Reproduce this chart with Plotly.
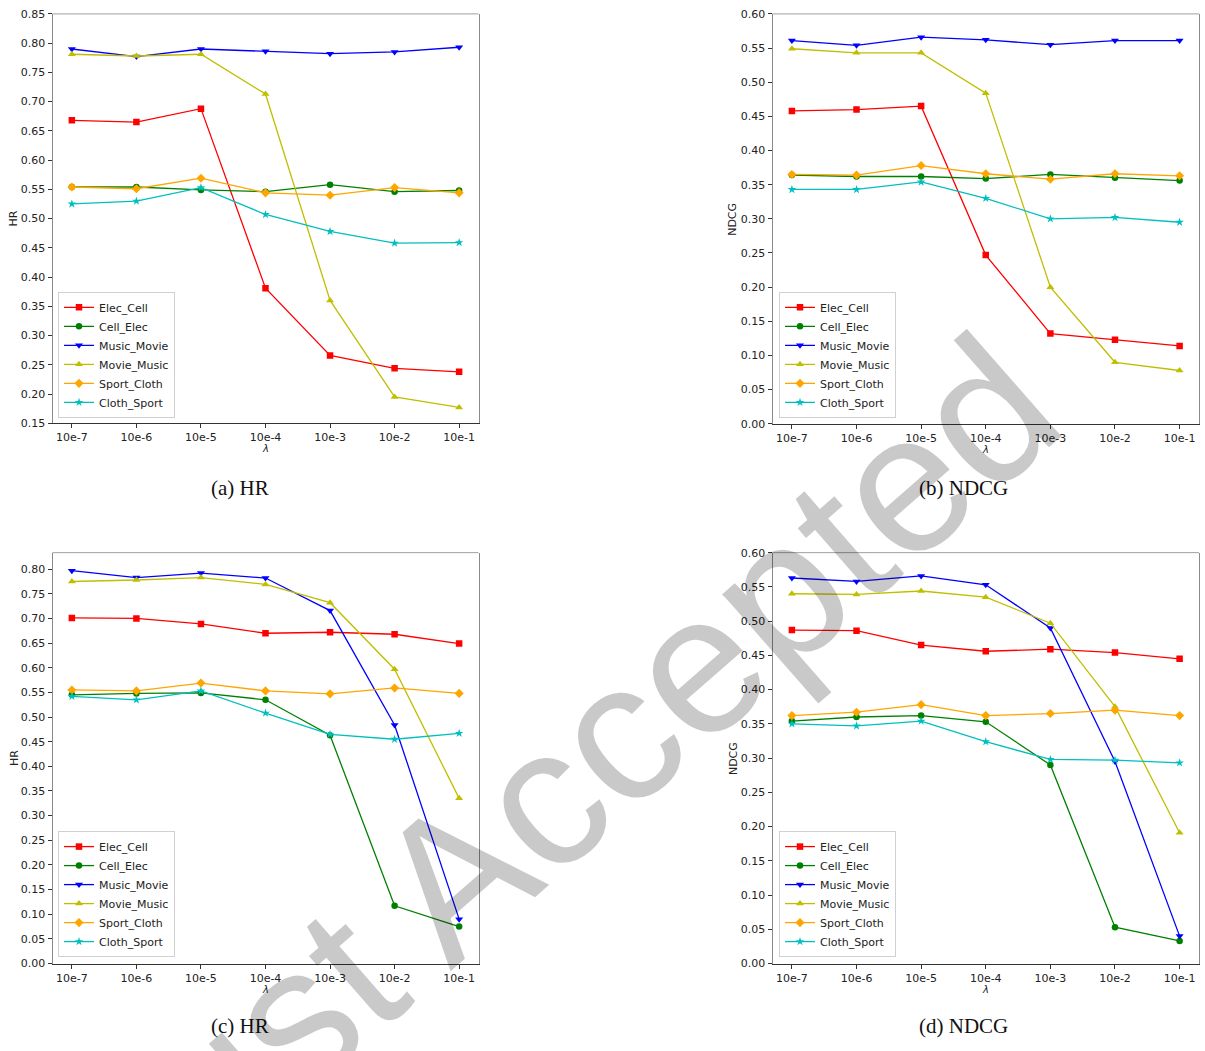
import plotly.graph_objects as go

W, H = 1205, 1051

lambdas = ["10e-7", "10e-6", "10e-5", "10e-4", "10e-3", "10e-2", "10e-1"]
series_names = ["Elec_Cell", "Cell_Elec", "Music_Movie", "Movie_Music", "Sport_Cloth", "Cloth_Sport"]

# (a) HR
hr_a_elec_cell = [0.668, 0.665, 0.688, 0.381, 0.266, 0.244, 0.238]
hr_a_cell_elec = [0.554, 0.554, 0.549, 0.546, 0.558, 0.546, 0.548]
hr_a_music_movie = [0.790, 0.777, 0.790, 0.786, 0.782, 0.785, 0.793]
hr_a_movie_music = [0.781, 0.778, 0.781, 0.713, 0.360, 0.195, 0.177]
hr_a_sport_cloth = [0.554, 0.551, 0.569, 0.544, 0.540, 0.553, 0.544]
hr_a_cloth_sport = [0.525, 0.530, 0.553, 0.507, 0.478, 0.458, 0.459]

# (b) NDCG
ndcg_b_elec_cell = [0.458, 0.460, 0.465, 0.247, 0.132, 0.123, 0.114]
ndcg_b_cell_elec = [0.364, 0.362, 0.362, 0.359, 0.365, 0.360, 0.356]
ndcg_b_music_movie = [0.561, 0.554, 0.566, 0.562, 0.555, 0.561, 0.561]
ndcg_b_movie_music = [0.549, 0.543, 0.543, 0.484, 0.200, 0.090, 0.078]
ndcg_b_sport_cloth = [0.365, 0.364, 0.378, 0.366, 0.358, 0.366, 0.363]
ndcg_b_cloth_sport = [0.343, 0.343, 0.354, 0.330, 0.300, 0.302, 0.295]

# (c) HR
hr_c_elec_cell = [0.701, 0.700, 0.689, 0.670, 0.672, 0.668, 0.649]
hr_c_cell_elec = [0.545, 0.548, 0.549, 0.535, 0.463, 0.117, 0.075]
hr_c_music_movie = [0.797, 0.783, 0.792, 0.782, 0.716, 0.484, 0.090]
hr_c_movie_music = [0.775, 0.778, 0.783, 0.769, 0.732, 0.597, 0.335]
hr_c_sport_cloth = [0.555, 0.553, 0.569, 0.553, 0.547, 0.559, 0.548]
hr_c_cloth_sport = [0.542, 0.535, 0.553, 0.508, 0.465, 0.455, 0.467]

# (d) NDCG
ndcg_d_elec_cell = [0.487, 0.486, 0.465, 0.456, 0.459, 0.454, 0.445]
ndcg_d_cell_elec = [0.354, 0.360, 0.362, 0.353, 0.290, 0.053, 0.033]
ndcg_d_music_movie = [0.563, 0.558, 0.566, 0.553, 0.490, 0.295, 0.040]
ndcg_d_movie_music = [0.540, 0.539, 0.544, 0.535, 0.497, 0.375, 0.191]
ndcg_d_sport_cloth = [0.362, 0.367, 0.378, 0.362, 0.365, 0.370, 0.362]
ndcg_d_cloth_sport = [0.350, 0.347, 0.354, 0.324, 0.298, 0.297, 0.293]

captions = ["(a) HR", "(b) NDCG", "(c) HR", "(d) NDCG"]
ylabels = ["HR", "NDCG", "HR", "NDCG"]
xlabel = "<i>λ</i>"
watermark = "Just Accepted"

colors = ["#ff0000", "#008000", "#0000ff", "#bfbf00", "#ffa500", "#00bfbf"]
symbols = ["square", "circle", "triangle-down", "triangle-up", "diamond", "star"]
msizes = [6.5, 6.5, 7, 7, 7, 6.5]

panels = [
    [hr_a_elec_cell, hr_a_cell_elec, hr_a_music_movie, hr_a_movie_music, hr_a_sport_cloth, hr_a_cloth_sport],
    [ndcg_b_elec_cell, ndcg_b_cell_elec, ndcg_b_music_movie, ndcg_b_movie_music, ndcg_b_sport_cloth, ndcg_b_cloth_sport],
    [hr_c_elec_cell, hr_c_cell_elec, hr_c_music_movie, hr_c_movie_music, hr_c_sport_cloth, hr_c_cloth_sport],
    [ndcg_d_elec_cell, ndcg_d_cell_elec, ndcg_d_music_movie, ndcg_d_movie_music, ndcg_d_sport_cloth, ndcg_d_cloth_sport],
]

# pixel geometry of each plot frame: left, right, top, bottom
frames = [
    (52.5, 478.5, 8, 422.5),
    (772.5, 1199, 8, 423),
    (52.5, 478.5, 553.5, 969.5),
    (772.5, 1199, 553.5, 969.5),
]
yranges = [(0.15, 0.85), (0.0, 0.60), (0.0, 0.8335), (0.0, 0.60)]
legend_pos = [(58, 417), (779, 417), (58, 963), (779, 963)]
caption_pos = [(240, 488), (963, 488), (240, 1033), (963, 1033)]

def px(x):
    return x / W

def py(y):
    return 1 - y / H

fig = go.Figure()
layout = dict(
    width=W, height=H, margin=dict(l=0, r=0, t=0, b=0),
    paper_bgcolor="white", plot_bgcolor="white",
    font=dict(family="DejaVu Sans", size=11, color="#222"),
    showlegend=True,
)
annotations = []
shapes = []
tick_font = dict(family="DejaVu Sans", size=11, color="#222")

for i, data in enumerate(panels):
    n = "" if i == 0 else str(i + 1)
    xa, ya = "x" + n, "y" + n
    leg = "legend" + n
    for j, vals in enumerate(data):
        fig.add_trace(go.Scatter(
            x=list(range(len(lambdas))), y=vals, name=series_names[j],
            mode="lines+markers", xaxis=xa, yaxis=ya, legend=leg,
            line=dict(color=colors[j], width=1.3),
            marker=dict(symbol=symbols[j], size=msizes[j], color=colors[j],
                        line=dict(width=0)),
        ))
    l, r, t, b = frames[i]
    layout["xaxis" + n] = dict(
        domain=[px(l), px(r)], anchor=ya, range=[-0.3, 6.3],
        tickmode="array", tickvals=list(range(len(lambdas))), ticktext=lambdas,
        ticks="outside", ticklen=4, tickcolor="#333", tickwidth=1,
        showline=True, linecolor="#333", linewidth=1, mirror=False,
        showgrid=False, zeroline=False, tickfont=tick_font, fixedrange=True,
    )
    y0, y1 = yranges[i]
    layout["yaxis" + n] = dict(
        domain=[py(b), py(t)], anchor=xa, range=[y0, y1],
        tick0=0, dtick=0.05, tickformat=".2f",
        ticks="outside", ticklen=4, tickcolor="#333", tickwidth=1,
        showline=True, linecolor="#8a8a8a", linewidth=1, mirror=True,
        showgrid=False, zeroline=False, tickfont=tick_font, fixedrange=True,
    )
    shapes.append(dict(type="line", xref=xa + " domain", yref=ya + " domain",
                       x0=0, x1=1, y0=1, y1=1, line=dict(color="#a0a0a0", width=1)))
    lx, ly = legend_pos[i]
    layout[leg] = dict(
        x=px(lx), y=py(ly), xanchor="left", yanchor="bottom",
        bgcolor="rgba(255,255,255,0.8)", bordercolor="#d0d0d0", borderwidth=1,
        font=dict(family="DejaVu Sans", size=11, color="#222"),
        itemwidth=30, tracegroupgap=0,
    )
    # axis titles
    annotations.append(dict(text=ylabels[i], xref="paper", yref="paper",
                            x=px(14 if i % 2 == 0 else 733), y=py((t + b) / 2),
                            xanchor="center", yanchor="middle",
                            textangle=-90, showarrow=False,
                            font=dict(family="DejaVu Sans", size=11, color="#222")))
    annotations.append(dict(text=xlabel, xref="paper", yref="paper",
                            x=px((l + r) / 2), y=py(b + 26),
                            xanchor="center", yanchor="middle",
                            showarrow=False,
                            font=dict(family="DejaVu Sans", size=10, color="#222")))
    cx, cy = caption_pos[i]
    annotations.append(dict(text=captions[i], xref="paper", yref="paper",
                            x=px(cx), y=py(cy), xanchor="center", yanchor="middle",
                            showarrow=False,
                            font=dict(family="Liberation Serif", size=21, color="#111")))

annotations.append(dict(text=watermark, xref="paper", yref="paper",
                        x=px(562), y=py(786), xanchor="center", yanchor="middle",
                        showarrow=False, textangle=-41.2,
                        font=dict(family="Liberation Sans", size=198,
                                  color="rgba(0,0,0,0.21)")))

layout["annotations"] = annotations
layout["shapes"] = shapes
fig.update_layout(**layout)

fig.write_html("out.html", config={"displayModeBar": False},
               post_script="document.body.style.margin='0px';document.body.style.overflow='hidden';")
